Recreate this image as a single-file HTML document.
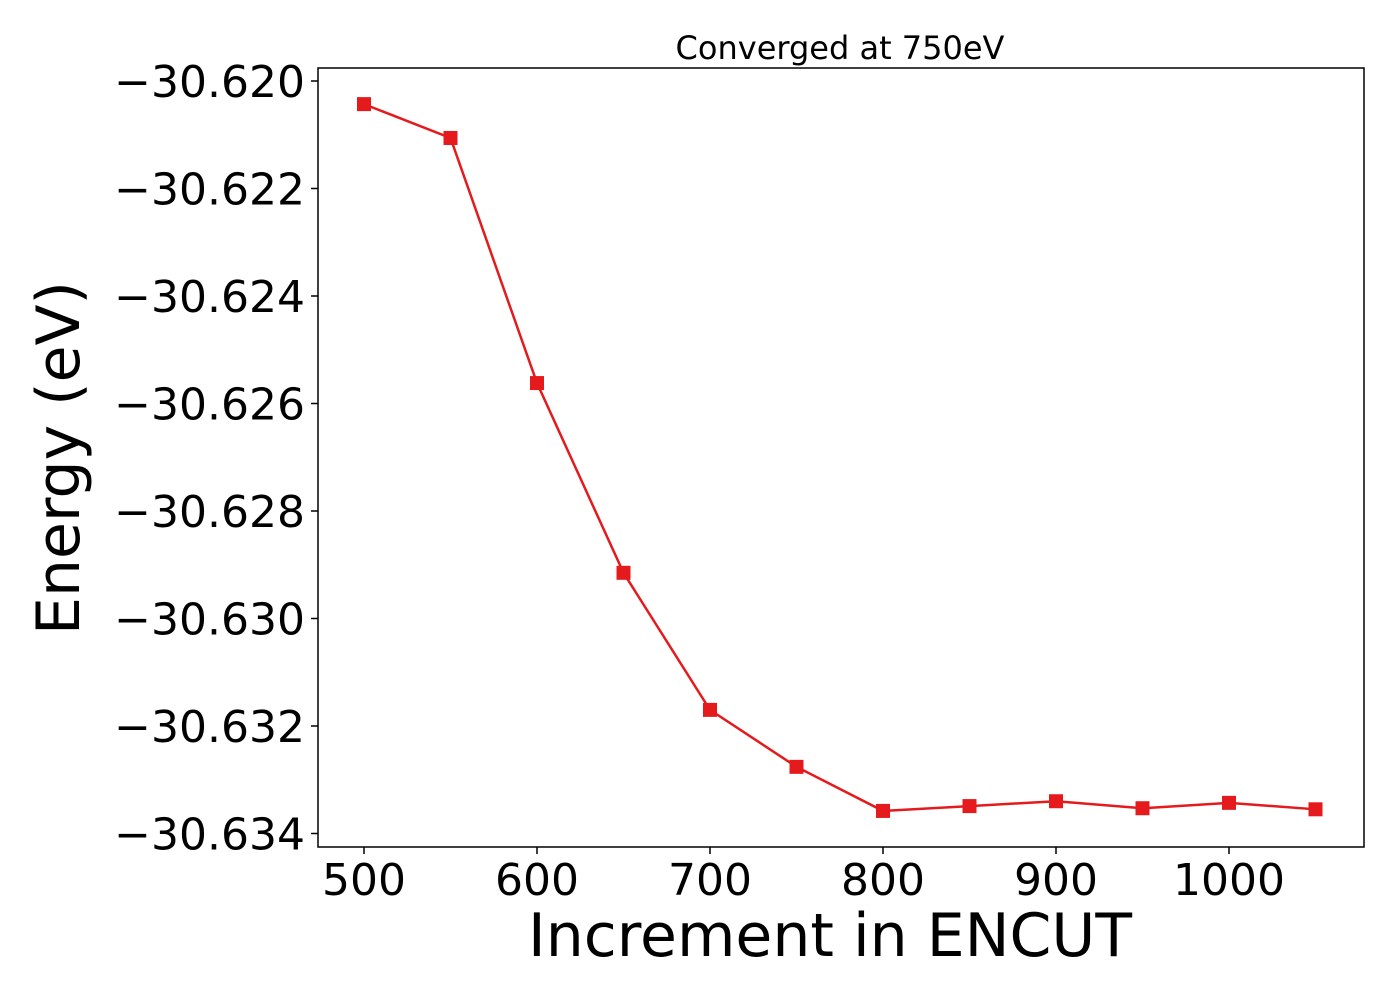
<!DOCTYPE html>
<html><head><meta charset="utf-8"><style>
html,body{margin:0;padding:0;background:#fff;}
svg{display:block;font-family:"DejaVu Sans","Liberation Sans",sans-serif;}
</style></head><body>
<svg id="chart" width="1400" height="1000" viewBox="0 0 1400 1000" xmlns="http://www.w3.org/2000/svg">
<rect x="0" y="0" width="1400" height="1000" fill="#fff"/>
<text x="840" y="59" font-size="32" text-anchor="middle">Converged at 750eV</text>
<g id="plot"></g>
<rect x="318" y="68" width="1046" height="779" fill="none" stroke="#000" stroke-width="1.5"/>
<text x="830" y="956" font-size="60" text-anchor="middle">Increment in ENCUT</text>
<text transform="translate(79,458) rotate(-90)" font-size="60" text-anchor="middle">Energy (eV)</text>
</svg>
<script>
const categories = [500,550,600,650,700,750,800,850,900,950,1000,1050];
const energies = [-30.62043,-30.62106,-30.62562,-30.62915,-30.63170,-30.63276,-30.63358,-30.63349,-30.63340,-30.63353,-30.63343,-30.63355];
const xTicks = [500,600,700,800,900,1000];
const yTicks = [-30.620,-30.622,-30.624,-30.626,-30.628,-30.630,-30.632,-30.634];
const yTickLabels = ["−30.620","−30.622","−30.624","−30.626","−30.628","−30.630","−30.632","−30.634"];

const NS="http://www.w3.org/2000/svg";
function xs(v){return 364+(v-500)*(1229-364)/500;}
function ys(v){return 81+(-30.620-v)/0.014*752.5;}
const g=document.getElementById('plot');
function mk(t,a){const e=document.createElementNS(NS,t);for(const k in a)e.setAttribute(k,a[k]);g.appendChild(e);return e;}
xTicks.forEach(v=>{
  const l=mk('line',{x1:xs(v),x2:xs(v),y1:847,y2:854,stroke:'#000','stroke-width':1.5});
  
  
  const t=mk('text',{x:xs(v),y:895,'font-size':44,'text-anchor':'middle'});
  t.textContent=v;
  
  
});
yTicks.forEach((v,i)=>{
  const l=mk('line',{x1:311,x2:318,y1:ys(v),y2:ys(v),stroke:'#000','stroke-width':1.5});
  
  
  const t=mk('text',{x:305,y:ys(v)+16,'font-size':44,'text-anchor':'end'});
  t.textContent=yTickLabels[i];
  
  
});
const pts=categories.map((c,i)=>xs(c)+','+ys(energies[i])).join(' ');
const pl=mk('polyline',{points:pts,fill:'none',stroke:'#e41a1c','stroke-width':2.5});


categories.forEach((c,i)=>{
  const r=mk('rect',{x:xs(c)-7,y:ys(energies[i])-7,width:14,height:14,fill:'#e41a1c'});
  
  
});
</script>
</body></html>
